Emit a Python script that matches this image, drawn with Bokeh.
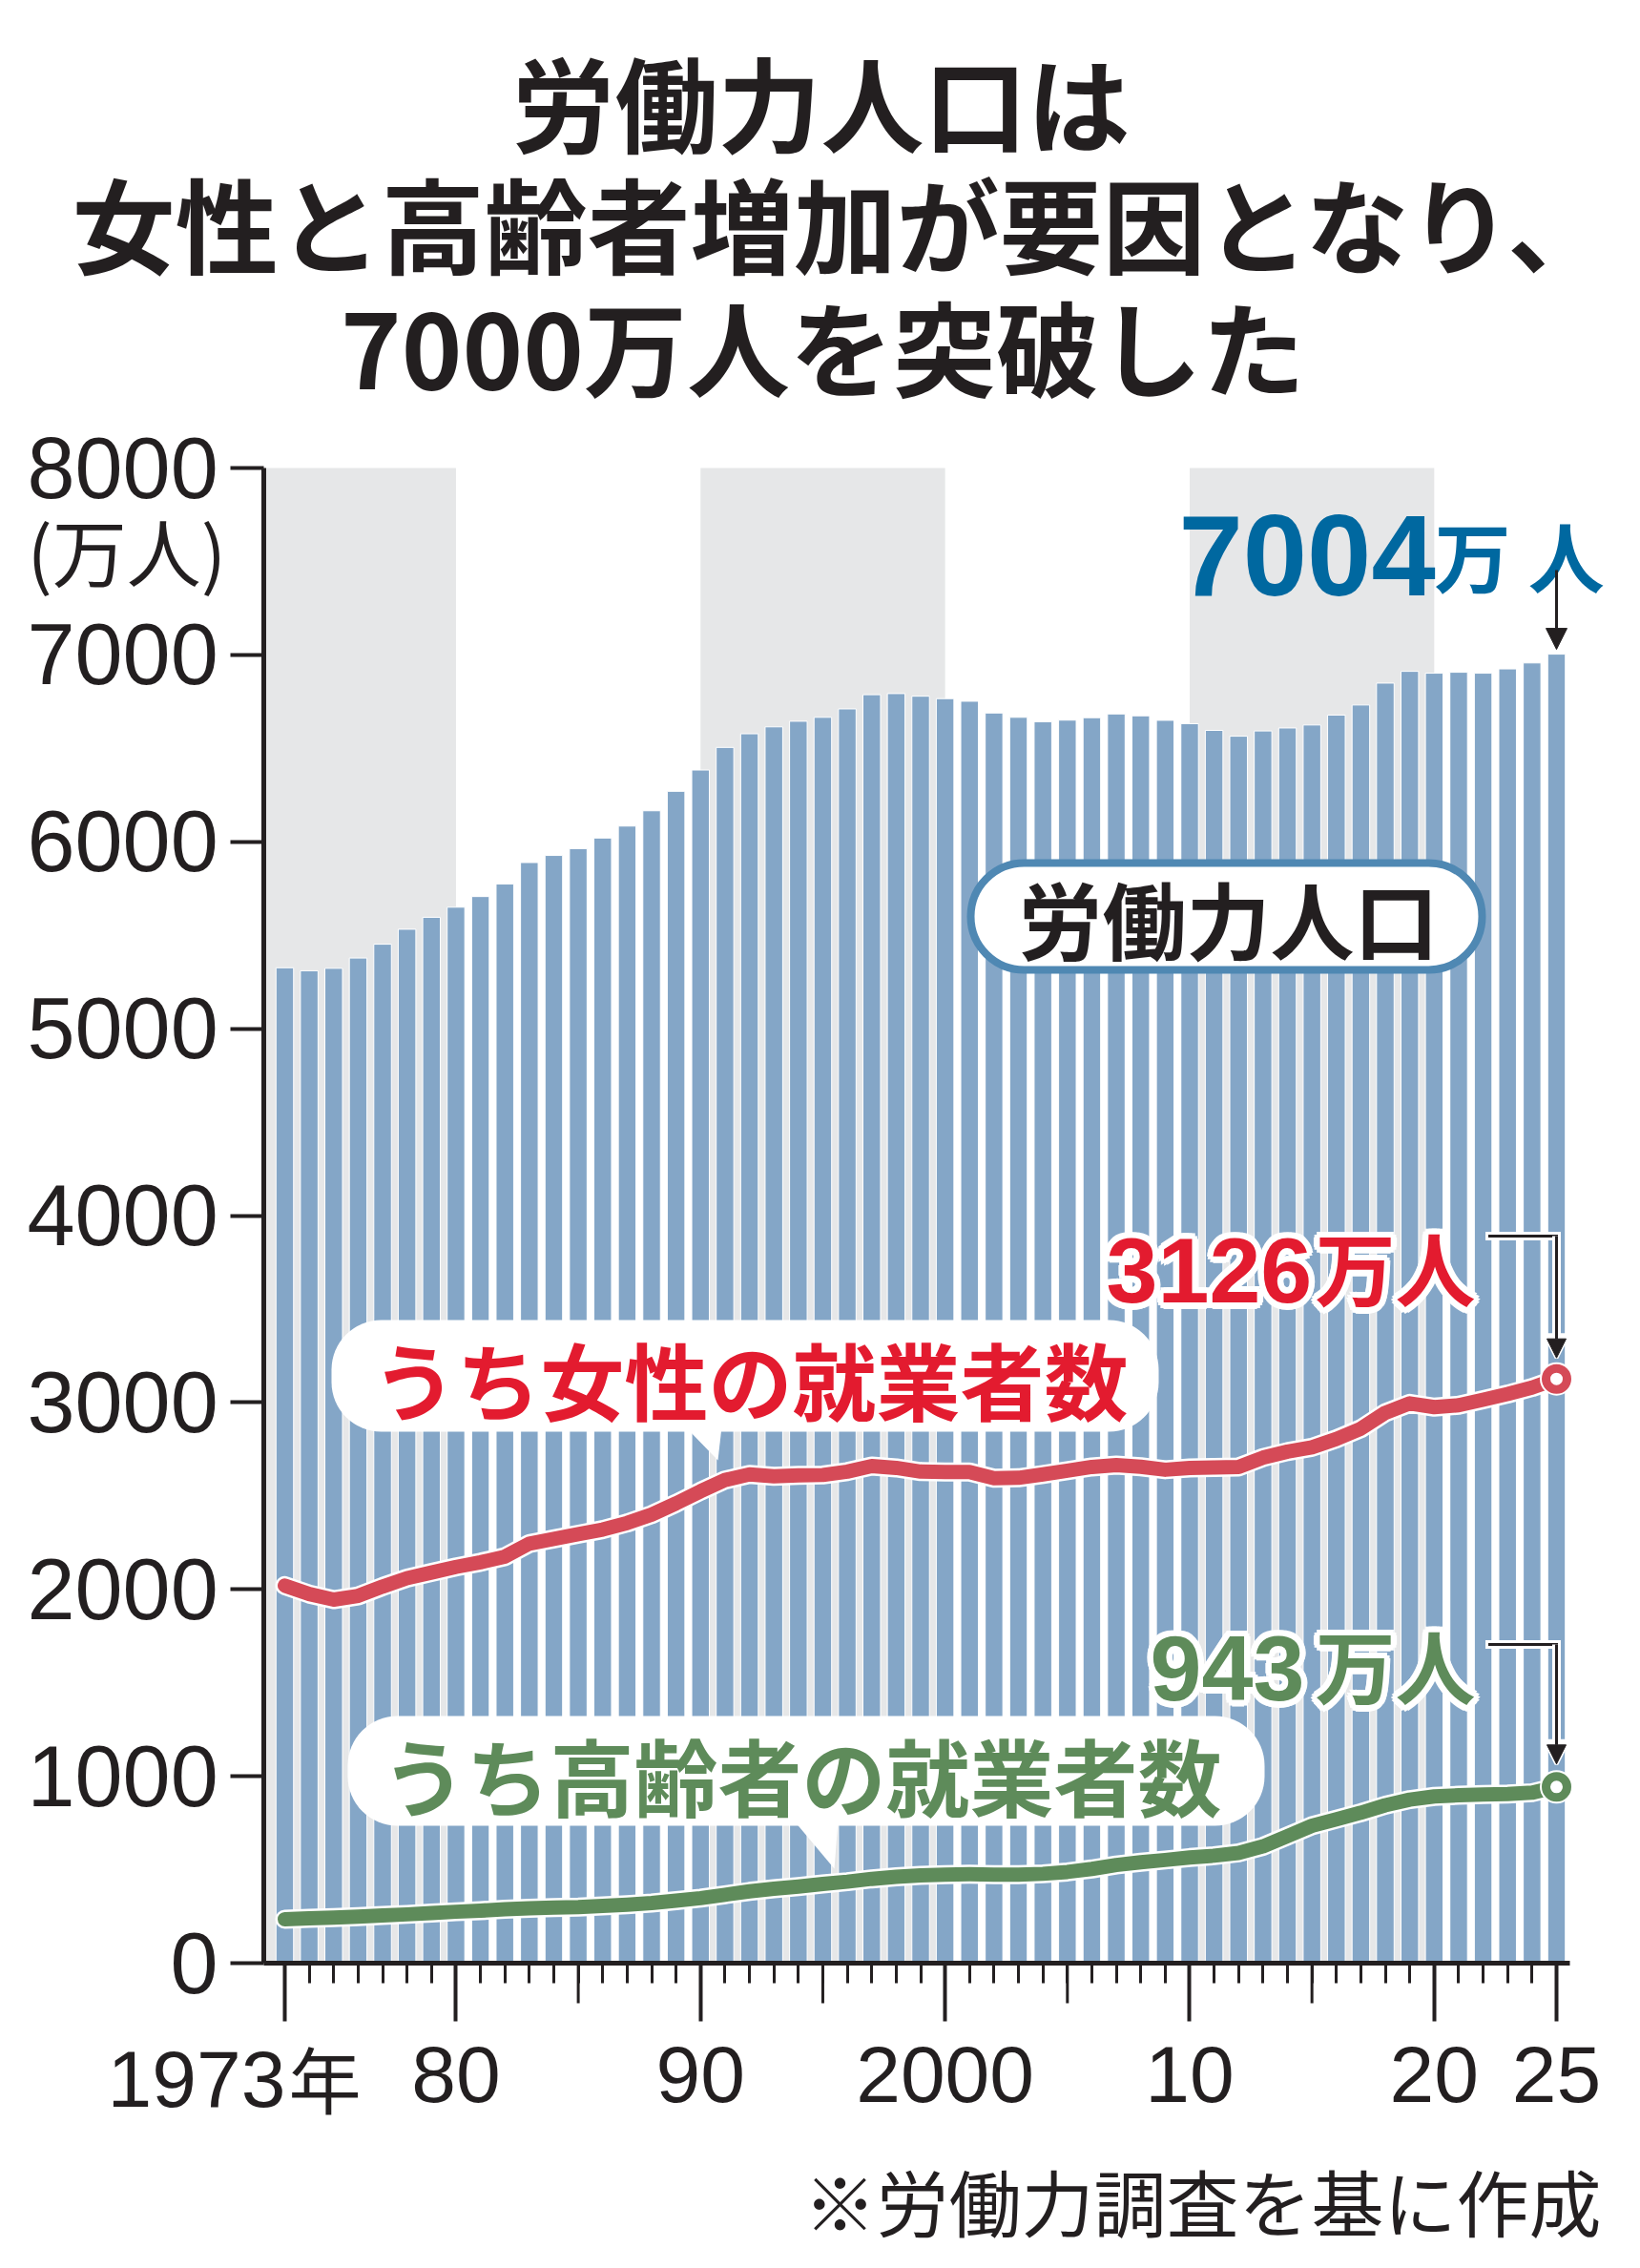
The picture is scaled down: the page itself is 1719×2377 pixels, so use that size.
import math
from bokeh.plotting import figure
from bokeh.models import (Range1d, FixedTicker, Label, BoxAnnotation, PolyAnnotation,
                          Arrow, NormalHead, ColumnDataSource)
from bokeh.core.properties import value
from bokeh.embed import file_html
from bokeh.resources import INLINE

# ---------------- data ----------------
years = list(range(1973, 2026))
labor_force = [5326, 5310, 5323, 5378, 5452, 5532, 5596, 5650, 5707, 5774,
               5889, 5927, 5963, 6020, 6084, 6166, 6270, 6384, 6505, 6578,
               6615, 6645, 6666, 6711, 6787, 6793, 6779, 6766, 6752, 6689,
               6666, 6642, 6651, 6664, 6684, 6674, 6650, 6632, 6596, 6565,
               6593, 6609, 6625, 6678, 6732, 6849, 6912, 6902, 6907, 6902,
               6925, 6957, 7004]
women_employed = [2020, 1975, 1945, 1965, 2015, 2060, 2090, 2120, 2145, 2175,
                  2245, 2270, 2295, 2320, 2355, 2400, 2460, 2525, 2585, 2615,
                  2605, 2610, 2612, 2630, 2660, 2650, 2630, 2628, 2628, 2595,
                  2597, 2615, 2635, 2655, 2665, 2656, 2640, 2650, 2652, 2655,
                  2705, 2737, 2760, 2805, 2860, 2945, 2995, 2975, 2985, 3015,
                  3045, 3080, 3126]
elderly_employed = [235, 240, 244, 249, 255, 261, 268, 275, 281, 288,
                    294, 297, 300, 306, 313, 322, 334, 348, 366, 384,
                    398, 410, 424, 436, 451, 462, 470, 474, 476, 474,
                    474, 478, 488, 504, 525, 540, 552, 565, 575, 590,
                    625, 680, 735, 770, 805, 845, 875, 892, 898, 902,
                    905, 912, 943]
y_ticks = [0, 1000, 2000, 3000, 4000, 5000, 6000, 7000, 8000]
x_major_ticks = [1973, 1980, 1990, 2000, 2010, 2020, 2025]
x_mid_ticks = [1985, 1995, 2005, 2015]
x_tick_labels = {1973: "", 1980: "80", 1990: "90", 2000: "2000",
                 2010: "10", 2020: "20", 2025: "25"}
first_year_label = ["1973", "年"]
shade_start = [1970, 1990, 2010]
shade_end = [1980, 2000, 2020]
title_lines = ["労働力人口は", "女性と高齢者増加が要因となり、", "7000万人を突破した"]
unit_label = "(万人)"
unit_text = "万人"
source_note = "※労働力調査を基に作成"
label_labor = "労働力人口"
label_women = "うち女性の就業者数"
label_elderly = "うち高齢者の就業者数"

# ---------------- styling / geometry ----------------
INK = "#231f20"
BAR = "#84a6c7"
SHADE = "#e6e7e8"
RED_LINE = "#d54a57"
RED_TEXT = "#e31b2f"
GREEN_LINE = "#5e8b5a"
BLUE_TEXT = "#0068a0"
BOX_LINE = "#4f88b3"
JP = "Noto Sans CJK JP"
NUM = "Liberation Sans"
NBSP = "\u00a0"

W, H = 1719, 2377
FL, FR, FT, FB = 0, W, 0, H            # plot frame covers the canvas
AXIS_PX = 276.0                        # y-axis position (canvas px)
PX_1973, PX_2025 = 298.0, 1631.0       # where first / last year sit
PY_0, PY_8000 = 2057.0, 490.0          # where 0 and 8000 sit
ppx = (PX_2025 - PX_1973) / (years[-1] - years[0])
ppu = (PY_0 - PY_8000) / y_ticks[-1]
X0 = years[0] - (PX_1973 - FL) / ppx
X1 = X0 + (FR - FL) / ppx
Y0 = -(FB - PY_0) / ppu
Y1 = (PY_0 - FT) / ppu


def X(px):
    return X0 + (px - FL) / ppx


def Y(py):
    return (PY_0 - py) / ppu


p = figure(width=W, height=H, output_backend="svg", toolbar_location=None,
           x_range=Range1d(X0, X1), y_range=Range1d(Y0, Y1),
           x_axis_location="above", y_axis_location="right",
           min_border_left=0, min_border_right=0,
           min_border_top=0, min_border_bottom=0,
           background_fill_color="white", border_fill_color="white",
           outline_line_color=None)
p.grid.visible = False

# shaded decades (kept inside the plotting area)
p.quad(left=[max(s, X(AXIS_PX)) for s in shade_start], right=shade_end,
       bottom=0, top=y_ticks[-1], fill_color=SHADE, line_color=None)

# bars
p.vbar(x=years, top=labor_force, bottom=0, width=0.72,
       fill_color=BAR, line_color="white", line_width=1)

# lines
for data, col in ((women_employed, RED_LINE), (elderly_employed, GREEN_LINE)):
    p.line(years, data, line_color="white", line_width=20,
           line_join="round", line_cap="round")
    p.line(years, data, line_color=col, line_width=15,
           line_join="round", line_cap="round")
    p.scatter([years[-1]], [data[-1]], size=35, fill_color="white", line_color=None)
    p.scatter([years[-1]], [data[-1]], size=22, fill_color="white",
              line_color=col, line_width=9)

# ---------------- axes ----------------
xa = p.xaxis[0]
xa.fixed_location = 0
xa.bounds = (X(AXIS_PX), X(1645))
xa.ticker = FixedTicker(ticks=x_major_ticks, minor_ticks=years)
xa.major_label_overrides = x_tick_labels
xa.axis_line_width = 5
xa.axis_line_color = INK
xa.major_tick_in = 61
xa.major_tick_out = 0
xa.major_tick_line_width = 4
xa.major_tick_line_color = INK
xa.minor_tick_in = 21
xa.minor_tick_out = 0
xa.minor_tick_line_width = 3
xa.minor_tick_line_color = INK
xa.major_label_text_font = NUM
xa.major_label_text_font_size = "84px"
xa.major_label_text_color = INK
xa.major_label_standoff = -145

ya = p.yaxis[0]
ya.fixed_location = X(AXIS_PX)
ya.bounds = (0, y_ticks[-1])
ya.ticker = FixedTicker(ticks=y_ticks, minor_ticks=[])
width_digits = max(len(str(t)) for t in y_ticks)
ya.major_label_overrides = {t: NBSP * (2 * (width_digits - len(str(t)))) + str(t)
                            for t in y_ticks}
ya.axis_line_width = 5
ya.axis_line_color = INK
ya.major_tick_in = 35
ya.major_tick_out = 0
ya.major_tick_line_width = 4
ya.major_tick_line_color = INK
ya.minor_tick_in = 0
ya.minor_tick_out = 0
ya.major_label_text_font = NUM
ya.major_label_text_font_size = "90px"
ya.major_label_text_color = INK
ya.major_label_standoff = -248

for t in x_mid_ticks:
    p.add_layout(Arrow(end=None, x_start=t, y_start=0, x_end=t, y_end=-42 / ppu,
                       line_width=3, line_color=INK))

p.add_layout(Label(x=years[0], y=0, x_offset=112 - PX_1973, y_offset=-121,
                   text=first_year_label[0], text_font=NUM, text_font_size="84px",
                   text_color=INK, text_align="left", text_baseline="alphabetic"))
p.add_layout(Label(x=years[0], y=0, x_offset=302 - PX_1973, y_offset=-119,
                   text=first_year_label[1], text_font=JP, text_font_size="76px",
                   text_color=INK, text_align="left", text_baseline="alphabetic"))

p.add_layout(Label(x=X(28), y=Y(575), text=unit_label, text_font=JP,
                   text_font_size="78px", text_color=INK,
                   text_align="left", text_baseline="middle"))

# ---------------- title ----------------
for line, cx, cy in zip(title_lines, (860, 883, 862), (104, 231, 360)):
    p.add_layout(Label(x=X(cx), y=Y(cy), text=line, text_font=JP,
                       text_font_size="108px", text_font_style="bold",
                       text_color=INK, text_align="center", text_baseline="middle"))

# ---------------- 7004 annotation ----------------
p.add_layout(Label(x=X(1235), y=Y(581), text=str(labor_force[-1]), text_font=NUM,
                   text_font_size="121px", text_font_style="bold",
                   text_color=BLUE_TEXT, text_align="left", text_baseline="alphabetic"))
p.add_layout(Label(x=X(1503), y=Y(579), text="万 人", text_font=JP,
                   text_font_size="80px", text_font_style="bold",
                   text_color=BLUE_TEXT, text_align="left", text_baseline="alphabetic"))
p.add_layout(Arrow(end=NormalHead(size=22, fill_color=INK, line_color=INK),
                   x_start=years[-1], y_start=labor_force[-1] + 88 / ppu,
                   x_end=years[-1], y_end=labor_force[-1] + 5 / ppu,
                   line_width=3, line_color=INK))

# ---------------- labor force box ----------------
p.add_layout(BoxAnnotation(left=X(1017), right=X(1553), top=Y(904), bottom=Y(1016),
                           fill_color="white", fill_alpha=1, line_color=BOX_LINE,
                           line_alpha=1, line_width=8, border_radius=56))
p.add_layout(Label(x=X(1287), y=Y(960), text=label_labor, text_font=JP,
                   text_font_size="88px", text_font_style="bold", text_color=INK,
                   text_align="center", text_baseline="middle"))


# ---------------- speech bubbles ----------------
def bubble(l, r, t, b, tail, cx, cy, text, color):
    p.add_layout(BoxAnnotation(left=X(l), right=X(r), top=Y(t), bottom=Y(b),
                               fill_color="white", fill_alpha=1, line_color=None,
                               border_radius=52))
    p.add_layout(PolyAnnotation(xs=[X(v[0]) for v in tail], ys=[Y(v[1]) for v in tail],
                                fill_color="white", fill_alpha=1, line_color=None))
    p.add_layout(Label(x=X(cx), y=Y(cy), text=text, text_font=JP,
                       text_font_size="88px", text_font_style="bold", text_color=color,
                       text_align="center", text_baseline="middle"))


bubble(347, 1214, 1383, 1500, [(718, 1495), (756, 1495), (752, 1530)],
       786, 1443, label_women, RED_TEXT)
bubble(364, 1325, 1798, 1913, [(832, 1908), (878, 1908), (874, 1958)],
       840, 1858, label_elderly, GREEN_LINE)

# ---------------- value callouts with white halo ----------------
angles = [k * 30 for k in range(12)]
halo_dx = [6.5 * math.cos(math.radians(a)) for a in angles]
halo_dy = [6.5 * math.sin(math.radians(a)) for a in angles]


def halo_text(x, y, txt, font, size, color):
    n = len(angles)
    src = ColumnDataSource(dict(x=[x] * n, y=[y] * n, t=[txt] * n, dx=halo_dx, dy=halo_dy))
    p.text(x="x", y="y", text="t", x_offset="dx", y_offset="dy", source=src,
           text_color="white", text_font=value(font), text_font_size=size,
           text_font_style="bold", text_align="left", text_baseline="alphabetic")
    p.text(x=[x], y=[y], text=[txt], text_color=color, text_font=value(font),
           text_font_size=size, text_font_style="bold", text_align="left",
           text_baseline="alphabetic")


halo_text(X(1159), Y(1331), str(women_employed[-1]), NUM, "97px", RED_TEXT)
halo_text(X(1378), Y(1326), unit_text, JP, "84px", RED_TEXT)
halo_text(X(1205), Y(1748), str(elderly_employed[-1]), NUM, "97px", GREEN_LINE)
halo_text(X(1378), Y(1743), unit_text, JP, "84px", GREEN_LINE)


def connector(y_py, tip_value):
    yy = Y(y_py)
    for col, lw in (("white", 9), (INK, 3)):
        p.add_layout(Arrow(end=None, x_start=X(1561), y_start=yy, x_end=years[-1], y_end=yy,
                           line_width=lw, line_color=col, line_cap="square"))
    p.add_layout(Arrow(end=NormalHead(size=24, fill_color="white", line_color="white",
                                      line_width=4),
                       x_start=years[-1], y_start=yy, x_end=years[-1], y_end=tip_value,
                       line_width=9, line_color="white"))
    p.add_layout(Arrow(end=NormalHead(size=20, fill_color=INK, line_color=INK),
                       x_start=years[-1], y_start=yy, x_end=years[-1], y_end=tip_value,
                       line_width=3, line_color=INK))


connector(1295, women_employed[-1] + 22 / ppu)
connector(1723, elderly_employed[-1] + 24 / ppu)

# ---------------- source note ----------------
p.add_layout(Label(x=X(1678), y=Y(2305), text=source_note, text_font=JP,
                   text_font_size="76px", text_color=INK,
                   text_align="right", text_baseline="middle"))

open("out.html", "w").write(file_html(p, INLINE))
